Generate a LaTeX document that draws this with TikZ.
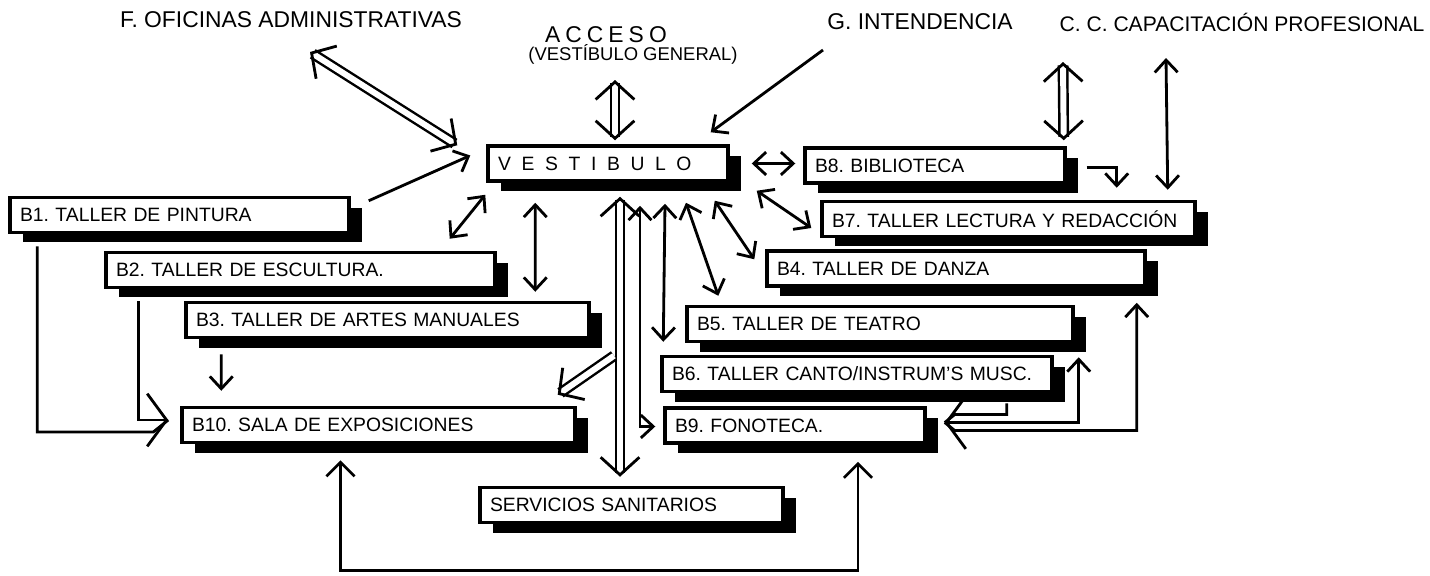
\documentclass[tikz,border=0pt]{standalone}
\usepackage{fontspec}
\setmainfont{Liberation Sans}
\usetikzlibrary{arrows.meta,calc,shadows}
\frenchspacing

\begin{document}
\begin{tikzpicture}[%
    x=0.02cm, y=-0.02cm,%
    pico/.tip={Straight Barb[length=7pt,width=13pt]},%
    picogrande/.tip={Straight Barb[length=11pt,width=30pt]},%
    picohueco/.tip={Straight Barb[length=10pt,width=22pt,line width=1.6pt]},%
    sala/.style={%
        draw, line width=2pt, fill=white,%
        text width=#1, align=left, inner xsep=0.2cm, minimum height=0.7cm,%
        font=\fontsize{11}{13}\selectfont,%
        drop shadow={shadow xshift=0.26cm, shadow yshift=-0.2cm,%
            fill=black, opacity=1}%
    },%
    rotulo/.style={font=\fontsize{12}{14}\selectfont, inner sep=1pt},%
    linea/.style={line width=1.6pt},%
    flecha/.style={linea, -pico},%
    atras/.style={linea, pico-},%
    dobleflecha/.style={linea, pico-pico},%
    hueca/.style={double, double distance=3.4pt, line width=1.4pt},%
]%
    \useasboundingbox (0,0) rectangle (1430,575);

    % exterior spaces
    \node[rotulo, font=\fontsize{13}{15}\selectfont] (ofic) at (291,20) {F. OFICINAS ADMINISTRATIVAS};
    \node[rotulo, font=\fontsize{13}{15}\selectfont] (acceso) at (606,35) {\addfontfeature{LetterSpace=22}ACCESO};
    \node[rotulo, font=\fontsize{10.5}{12}\selectfont] (vgral) at (633,54) {(VESTÍBULO GENERAL)};
    \node[rotulo, font=\fontsize{13}{15}\selectfont] (intend) at (920,22) {G. INTENDENCIA};
    \node[rotulo] (capac) at (1242,22) {C. C. CAPACITACIÓN PROFESIONAL};

    % rooms
    \node[sala=4.4cm] (vest) at (608,163.5) {\addfontfeature{LetterSpace=55}VESTIBULO};
    \node[sala=4.8cm] (b8) at (935,165.5) {B8. BIBLIOTECA};
    \node[sala=6.38cm] (b1) at (179.5,215) {B1. TALLER DE PINTURA};
    \node[sala=7.06cm] (b7) at (1008.5,219) {B7. TALLER LECTURA Y REDACCIÓN};
    \node[sala=7.38cm] (b2) at (300.5,270) {B2. TALLER DE ESCULTURA.};
    \node[sala=7.16cm] (b4) at (956,268.5) {B4. TALLER DE DANZA};
    \node[sala=7.66cm] (b3) at (387.5,320) {B3. TALLER DE ARTES MANUALES};
    \node[sala=7.32cm] (b5) at (880,324) {B5. TALLER DE TEATRO};
    \node[sala=7.40cm] (b6) at (857,374) {B6. TALLER CANTO/INSTRUM'S MUSC.};
    \node[sala=7.46cm] (b10) at (378.5,425) {B10. SALA DE EXPOSICIONES};
    \node[sala=4.80cm] (b9) at (795,425.5) {B9. FONOTECA.};
    \node[sala=5.66cm] (serv) at (631.5,505) {SERVICIOS SANITARIOS};

    % hollow links
    \draw[hueca, picohueco-picohueco] ($(ofic)+(19,32)$) -- ($(vest.north west)+(-29,1)$);
    \draw[hueca, picohueco-picohueco] ($(vgral)+(-18,26)$) -- ($(vest.north)+(7,-4)$);
    \draw[hueca, picohueco-picohueco] ($(capac)+(-179,40)$) -- ($(b8.north east)+(-3,-6)$);
    \draw[hueca, picohueco-picohueco] ($(vest.south)+(12,14)$) -- ($(serv.north)+(-11.5,-9)$);
    \coordinate (ramal) at ($(vest.south)+(6,173)$);
    \draw[hueca, -picohueco] (ramal) -- ($(b10.north east)+(-19,-11)$);

    % single links round the vestibule
    \draw[flecha] ($(b1.north east)+(18,5)$) -- ($(vest.west)+(-16,-8)$);
    \draw[flecha] ($(intend)+(-97,28)$) -- ($(vest.north east)+(-19,-12)$);
    \draw[dobleflecha] ($(vest.east)+(22,0)$) -- ($(b8.west)+(-8,-2)$);
    \draw[dobleflecha] ($(capac)+(-76,36)$) -- ($(b7.north east)+(-29,-10)$);
    \draw[flecha] ($(b8.east)+(20,2)$) -| ($(b7.north east)+(-80,-12)$);
    \draw[dobleflecha] ($(vest.south east)+(27,8)$) -- ($(b7.west)+(-9,9)$);
    \draw[dobleflecha] ($(vest.south east)+(-15,18)$) -- ($(b4.north west)+(-11,10)$);
    \draw[dobleflecha] ($(vest.south)+(78,20)$) -- ($(b5.north west)+(33,-9)$);
    \draw[dobleflecha] ($(vest.south)+(57,21)$) -- ($(b6.north west)+(3,-13)$);
    \draw[dobleflecha] ($(vest.south)+(32,23)$) |- ($(b9.west)+(-8,1)$);
    \draw[dobleflecha] ($(vest.south west)+(-1,12)$) -- ($(b2.north east)+(-47,-12)$);
    \draw[dobleflecha] ($(vest.south west)+(49,20)$) -- ($(b3.north west)+(351,-9)$);

    % into the exhibition hall
    \coordinate (entrada10) at ($(b10.west)+(-12,-5)$);
    \draw[flecha] ($(b3.south west)+(37,15)$) -- ($(b10.north west)+(41,-15)$);
    \draw[linea] ($(b1.south west)+(29,12)$) |- ($(entrada10)+(-15,12)$) -- (entrada10);
    \draw[linea, -picogrande] ($(b2.south west)+(34,12)$) |- (entrada10);

    % into the record library
    \coordinate (entrada9) at ($(b9.east)+(18,-3)$);
    \draw[linea] ($(b6.south east)+(-47,10)$) |- ($(entrada9)+(10,-8)$) -- (entrada9);
    \draw[linea, pico-picogrande] ($(b5.south east)+(4,14)$) |- ($(entrada9)+(10,0)$) -- (entrada9);
    \draw[atras] ($(b4.south east)+(-10,15)$) |- ($(entrada9)+(10,8)$) -- (entrada9);

    % bottom loop
    \draw[linea, {Straight Barb[length=8pt,width=16pt]}-{Straight Barb[length=8pt,width=16pt]}]
        ($(b10.south)+(-38,16)$) -- ++(0,110) -| ($(b9.south)+(63,17)$);
\end{tikzpicture}
\end{document}
